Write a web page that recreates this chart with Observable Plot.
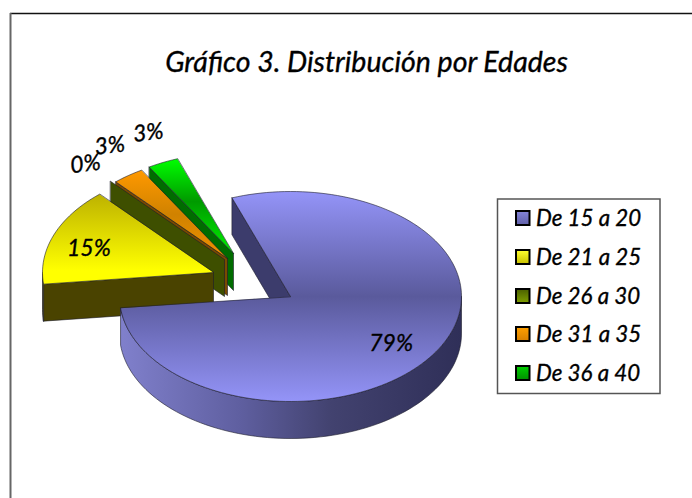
<!DOCTYPE html>
<html><head><meta charset="utf-8">
<script src="https://cdn.jsdelivr.net/npm/d3@7"></script>
<script src="https://cdn.jsdelivr.net/npm/@observablehq/plot@0.6"></script>
<style>html,body{margin:0;padding:0;background:#fff}svg{display:block}</style>
</head><body><div id="chart"></div>
<script>
// Data
const titleText = "Gráfico 3. Distribución por Edades";
const categories = ["De 15 a 20", "De 21 a 25", "De 26 a 30", "De 31 a 35", "De 36 a 40"];
const counts = [26, 5, 0, 1, 1];

// Pie layout (3-D projection parameters)
const W = 692, H = 498;
const center = [290, 296], rx = 171, ry = 105, depth = 37, firstAngle = -20;
const explodeX = [0, -77, -66, -63, -57];
const explodeY = [0, -24, -37, -38, -43];
const radiusScale = [1, 1, 1, 0.98, 0.96];
const labelFrac = [0.72, 0.78, 1.22, 1.3, 1.2];
const labelNudge = [[-4, 7], [0, 5], [0, 0], [14, -3], [3, -7]];
const labelRotate = [0, 0, -7, -7, -7];
const topStops = [
  [[0, "#9494f8"], [0.5, "#5a5a9c"], [1, "#9494f8"]],
  [[0, "#bdb200"], [0.85, "#ffff00"], [1, "#ffff00"]],
  [[0, "#4d6600"], [1, "#6f9400"]],
  [[0, "#ff9900"], [0.5, "#d08200"], [1, "#f09000"]],
  [[0, "#00ff00"], [0.45, "#009a00"], [1, "#00f000"]]
];
const wallColors = ["#3c3c6c", "#4a4300", "#3e4f00", "#7a4a00", "#006c00"];
const rimStops = [[0, "#8080cc"], [0.35, "#5f5fa0"], [0.62, "#42426f"], [1, "#2f2f58"]];
const swatchStops = [["#8484d8", "#6060a8"], ["#ffff30", "#c8c000"], ["#4a6000", "#80a000"], ["#ffa000", "#d88000"], ["#00d000", "#009000"]];
const legendRowY = [218, 257, 296, 334, 373];

const total = d3.sum(counts);
const rad = Math.PI / 180;
let a = firstAngle;
const slices = counts.map((v, i) => {
  const start = a, end = a + v / total * 360;
  a = end;
  return {i, v, start, end, cx: center[0] + explodeX[i], cy: center[1] + explodeY[i], k: radiusScale[i]};
});
const pt = (s, ang, dz = 0) => ({
  x: s.cx + Math.sin(ang * rad) * rx * s.k,
  y: s.cy - Math.cos(ang * rad) * ry * s.k + dz
});
const arc = (s, a0, a1, dz = 0) => {
  const n = Math.max(2, Math.ceil(Math.abs(a1 - a0) / 2));
  return d3.range(n + 1).map(j => pt(s, a0 + (a1 - a0) * j / n, dz));
};
const apex = (s, dz = 0) => ({x: s.cx, y: s.cy + dz});

// gradients
function defs() {
  const d = d3.create("svg:defs");
  const grad = (id, stops, horizontal) => {
    const g = d.append("linearGradient").attr("id", id)
      .attr("x1", 0).attr("y1", 0).attr("x2", horizontal ? 1 : 0).attr("y2", horizontal ? 0 : 1);
    stops.forEach(([o, c]) => g.append("stop").attr("offset", o).attr("stop-color", c));
  };
  topStops.forEach((st, i) => grad("top" + i, st, false));
  grad("rim", rimStops, true);
  swatchStops.forEach((st, i) => grad("sw" + i, [[0, st[0]], [1, st[1]]], false));
  return d.node();
}

const poly = (points, fill) => Plot.line(points, {
  x: "x", y: "y", curve: "linear-closed", fill, stroke: "#1c1c2c", strokeWidth: 0.6, strokeLinejoin: "round"
});

const pieMarks = [];
[...slices].reverse().forEach(s => {
  const startTop = pt(s, s.start), startBot = pt(s, s.start, depth);
  pieMarks.push(poly([startTop, apex(s), apex(s, depth), startBot], wallColors[s.i]));
  const r0 = Math.max(s.start, 90), r1 = Math.min(s.end, 270);
  if (r1 > r0) {
    pieMarks.push(poly([...arc(s, r0, r1), ...arc(s, r1, r0, depth)], s.i === 0 ? "url(#rim)" : wallColors[s.i]));
  }
  if (s.v > 0) pieMarks.push(poly([apex(s), ...arc(s, s.start, s.end)], `url(#top${s.i})`));
});

const textStyle = {fontFamily: "Lato, sans-serif", fontStyle: "italic", fill: "#000", stroke: "#000", strokeWidth: 0.35};
const labelMarks = slices.map(s => {
  const m = (s.start + s.end) / 2;
  const f = labelFrac[s.i];
  return Plot.text([s], {
    x: d => d.cx + Math.sin(m * rad) * rx * f,
    y: d => d.cy - Math.cos(m * rad) * ry * f,
    text: d => d3.format(".0%")(d.v / total),
    dx: labelNudge[s.i][0], dy: labelNudge[s.i][1],
    rotate: labelRotate[s.i],
    fontSize: 23, ...textStyle
  });
});

const legendMarks = [
  Plot.rect([0], {x1: () => 497.5, x2: () => 660, y1: () => 199, y2: () => 393.5, fill: "#fff", stroke: "#555", strokeWidth: 1.5}),
  ...categories.map((c, i) => Plot.rect([c], {
    x1: () => 516, x2: () => 529.5, y1: () => legendRowY[i] - 7, y2: () => legendRowY[i] + 7,
    fill: `url(#sw${i})`, stroke: "#000", strokeWidth: 2
  })),
  Plot.text(categories, {
    x: () => 535.5, y: (d, i) => legendRowY[i], text: d => d, textAnchor: "start",
    fontSize: 22.3, ...textStyle
  })
];

const plot = Plot.plot({
  width: W, height: H,
  margin: 0,
  x: {domain: [0, W], range: [0, W], axis: null},
  y: {domain: [0, H], range: [0, H], axis: null},
  style: {background: "#fff", overflow: "visible"},
  marks: [
    defs,
    Plot.ruleY([13], {x1: 10, x2: W, stroke: "#111", strokeWidth: 1.6}),
    Plot.ruleX([10], {y1: 13, y2: H, stroke: "#666", strokeWidth: 2}),
    Plot.text([titleText], {x: () => 366, y: () => 62, text: d => d, fontSize: 28.5, ...textStyle}),
    ...pieMarks,
    ...labelMarks,
    ...legendMarks
  ]
});
document.getElementById("chart").append(plot);
</script>
</body></html>
